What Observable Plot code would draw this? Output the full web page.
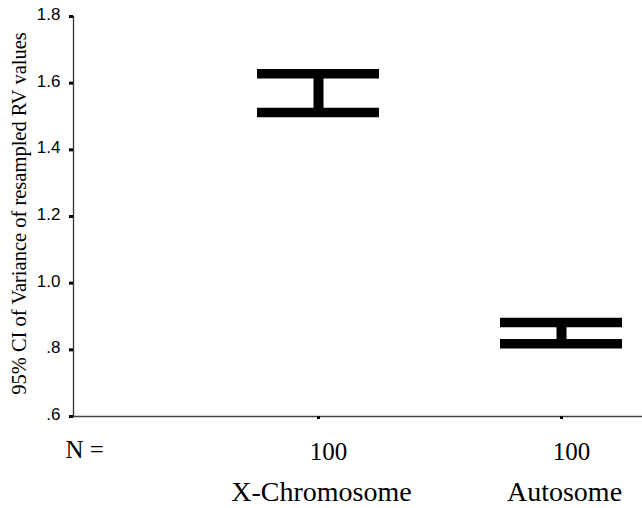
<!DOCTYPE html>
<html>
<head>
<meta charset="utf-8">
<script src="https://cdn.jsdelivr.net/npm/d3@7"></script>
<script src="https://cdn.jsdelivr.net/npm/@observablehq/plot@0.6"></script>
<style>
  html, body { margin: 0; padding: 0; background: white; }
</style>
</head>
<body>
<div id="chart"></div>
<script>
const categories = ["X-Chromosome", "Autosome"];
const lowerCI = [1.512, 0.818];
const upperCI = [1.628, 0.882];
const counts = [100, 100];
const yTicks = [0.6, 0.8, 1.0, 1.2, 1.4, 1.6, 1.8];
const yTickLabels = [".6", ".8", "1.0", "1.2", "1.4", "1.6", "1.8"];
const yTitle = "95% CI of Variance of resampled RV values";
const nLabel = "N =";

const data = categories.map((c, i) => ({cat: c, lo: lowerCI[i], hi: upperCI[i], n: counts[i]}));
const yTickData = yTicks.map((t, i) => ({t, label: yTickLabels[i]}));
const serif = "'Liberation Serif', 'Times New Roman', serif";
const sans = "'Liberation Sans', Arial, sans-serif";

const chart = Plot.plot({
  width: 642,
  height: 508,
  marginLeft: 73,
  marginRight: 0,
  marginTop: 16,
  marginBottom: 92,
  style: {background: "white", fontFamily: serif, fontSize: "14px", color: "black"},
  x: {type: "band", domain: categories, range: [196.5, 682.5], paddingInner: 0.5, paddingOuter: 0.25, label: null},
  y: {domain: [0.6, 1.8], label: null},
  marks: [
    Plot.ruleY([0.6], {stroke: "#444", strokeWidth: 1.3}),
    Plot.frame({anchor: "left", stroke: "#333", strokeWidth: 1.3}),
    Plot.axisY({
      ticks: yTicks,
      tickSize: 4,
      strokeWidth: 3,
      tickFormat: () => "",
      label: null
    }),
    Plot.text(yTickData, {y: "t", text: "label", frameAnchor: "left", textAnchor: "end", dx: -13, dy: -2, fontSize: 17, fontFamily: sans, fill: "black"}),
    Plot.axisX({
      tickSize: 3,
      strokeWidth: 3,
      tickFormat: () => "",
      label: null
    }),
    Plot.ruleX(data, {x: "cat", y1: "lo", y2: "hi", stroke: "black", strokeWidth: 10}),
    Plot.tickY(data, {x: "cat", y: "lo", stroke: "black", strokeWidth: 9.5}),
    Plot.tickY(data, {x: "cat", y: "hi", stroke: "black", strokeWidth: 9.5}),
    Plot.text(data, {x: "cat", text: d => String(d.n), frameAnchor: "bottom", lineAnchor: "bottom", dy: 43, dx: 10, fontSize: 25, fontFamily: serif, fill: "black"}),
    Plot.text(data, {x: "cat", text: "cat", frameAnchor: "bottom", lineAnchor: "bottom", dy: 84, dx: 3, fontSize: 28, fontFamily: serif, fill: "black"}),
    Plot.text([nLabel], {text: d => d, frameAnchor: "bottom-left", textAnchor: "start", lineAnchor: "bottom", dx: -8, dy: 41, fontSize: 25, fontFamily: serif, fill: "black"}),
    Plot.text([yTitle], {text: d => d, frameAnchor: "left", textAnchor: "middle", rotate: -90, lineAnchor: "bottom", dx: -48, dy: -3, fontSize: 20.5, fontFamily: serif, fill: "black"})
  ]
});
document.getElementById("chart").appendChild(chart);
</script>
</body>
</html>
